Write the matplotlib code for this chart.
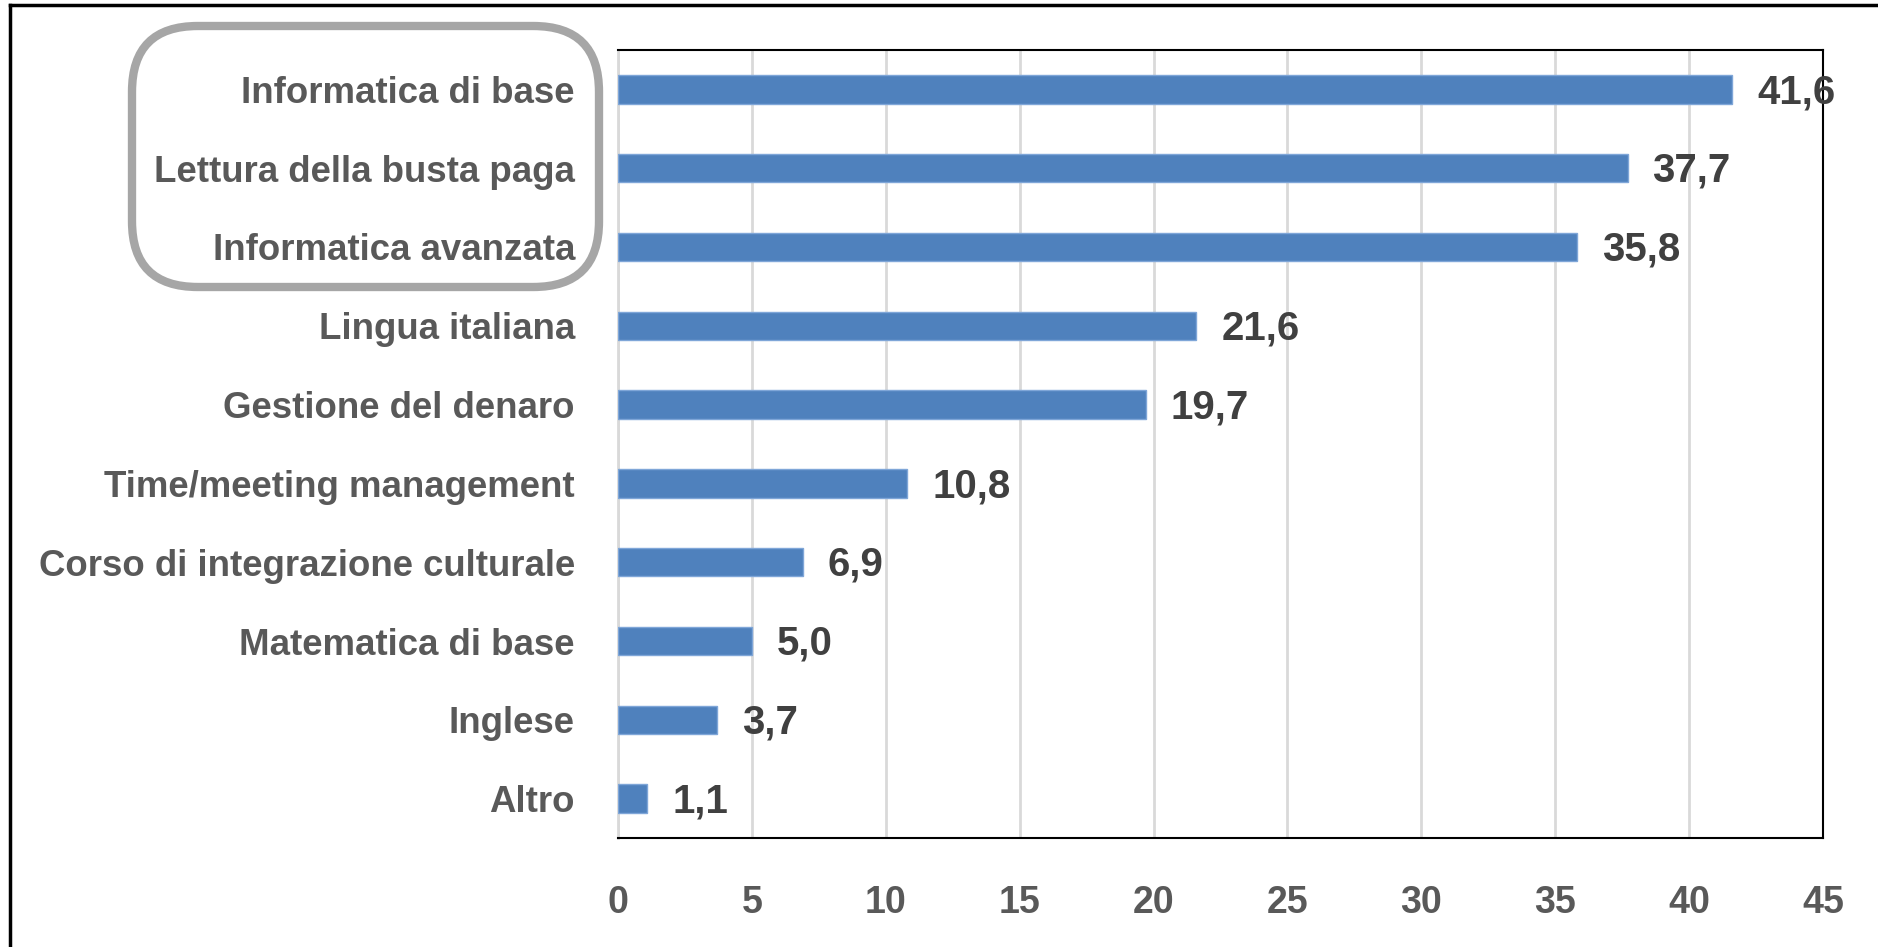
import matplotlib
matplotlib.use("Agg")
import matplotlib.pyplot as plt
from matplotlib.patches import FancyBboxPatch
from matplotlib.lines import Line2D

categories = ["Informatica di base", "Lettura della busta paga", "Informatica avanzata",
              "Lingua italiana", "Gestione del denaro", "Time/meeting management",
              "Corso di integrazione culturale", "Matematica di base", "Inglese", "Altro"]
values = [41.6, 37.7, 35.8, 21.6, 19.7, 10.8, 6.9, 5.0, 3.7, 1.1]
value_labels = ["41,6", "37,7", "35,8", "21,6", "19,7", "10,8", "6,9", "5,0", "3,7", "1,1"]
xticks = [0, 5, 10, 15, 20, 25, 30, 35, 40, 45]

W, H, DPI = 1878, 947, 100
fig = plt.figure(figsize=(W / DPI, H / DPI), dpi=DPI)
fig.patch.set_facecolor("white")

narrow = ["Liberation Sans Narrow", "Liberation Sans", "DejaVu Sans"]
bold = ["Liberation Sans", "DejaVu Sans"]

ax = fig.add_axes([618 / W, 1 - 838 / H, (1823 - 618) / W, (838 - 50) / H])
ypos = list(range(len(categories)))
ax.barh(ypos, values, height=0.36, color="#4F81BD", edgecolor="#7FA6D8", linewidth=1.0, zorder=3)
ax.set_ylim(len(categories) - 0.5, -0.5)
ax.set_xlim(0, 45)
ax.set_xticks(xticks)
ax.set_xticklabels([str(t) for t in xticks], family=narrow, fontsize=27, fontweight="bold", color="#595959")
ax.set_yticks(ypos)
ax.set_yticklabels(categories, family=narrow, fontsize=26.4, fontweight="bold", color="#595959")
ax.tick_params(axis="x", length=0, pad=34)
ax.tick_params(axis="y", length=0, pad=31)
ax.grid(axis="x", color="#D9D9D9", linewidth=2, zorder=0)
for s in ["top", "right", "bottom"]:
    ax.spines[s].set_color("black")
    ax.spines[s].set_linewidth(1.5)
ax.spines["left"].set_color("#D9D9D9")
ax.spines["left"].set_linewidth(2)

for y, v, lab in zip(ypos, values, value_labels):
    ax.annotate(lab, xy=(v, y), xytext=(18, -2), textcoords="offset points",
                ha="left", va="center", family=bold, fontsize=29, fontweight="bold",
                color="#404040", zorder=4, annotation_clip=False)

# rounded highlight box
box = FancyBboxPatch((132 / W, 1 - 287 / H), (599 - 132) / W, (287 - 26) / H,
                     boxstyle="round,pad=0,rounding_size=0.035",
                     transform=fig.transFigure, facecolor="none",
                     edgecolor="#A6A6A6", linewidth=6, mutation_aspect=W / H)
fig.patches.append(box)

# outer frame (left and top edges)
fig.lines.append(Line2D([10 / W, 10 / W], [0, 1 - 5 / H], transform=fig.transFigure, color="black", linewidth=2.5))
fig.lines.append(Line2D([10 / W, 1], [1 - 5 / H, 1 - 5 / H], transform=fig.transFigure, color="black", linewidth=2.5))

fig.savefig("out.png", dpi=DPI, facecolor="white")
